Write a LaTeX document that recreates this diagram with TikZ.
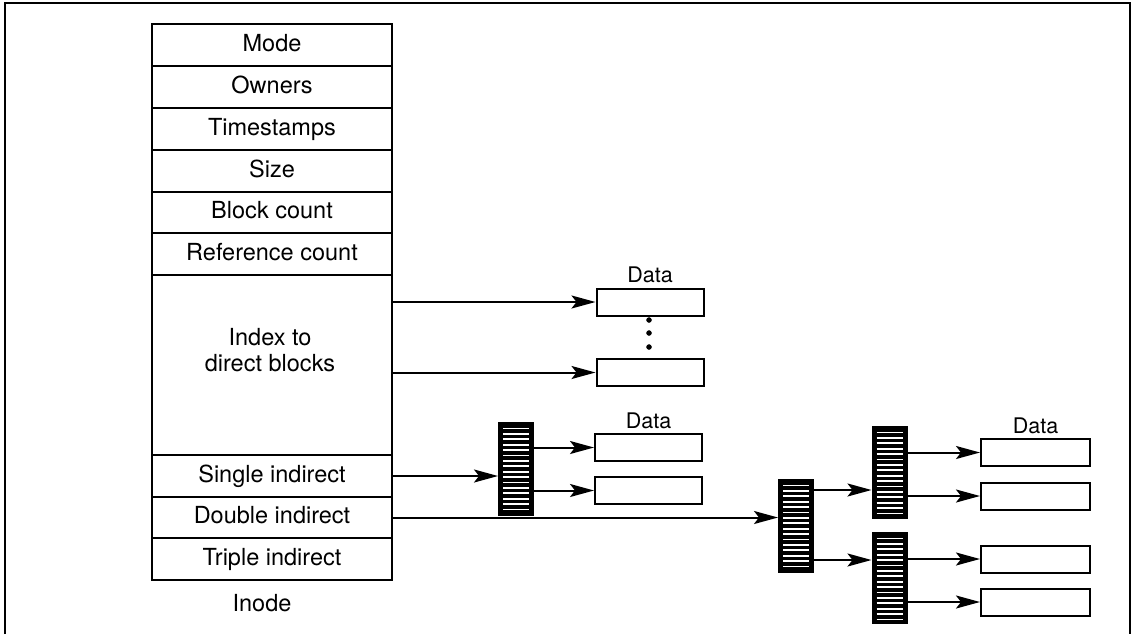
\documentclass[tikz,border=0pt]{standalone}
\usepackage{fontspec}
\setmainfont{TeX Gyre Heros}
\usetikzlibrary{arrows.meta,positioning}

\tikzset{
  field/.style={draw, line width=2pt, minimum width=240pt, inner sep=0pt, outer sep=0pt,
    text height=17pt, text depth=5pt},
  datablk/.style={draw, line width=2pt, minimum width=107pt, minimum height=27pt, inner sep=0pt},
  datalabel/.style={font=\fontsize{21.5pt}{24pt}\selectfont, inner sep=0pt},
  ptrblk/.style={draw, line width=2pt, fill=black, minimum width=34pt, minimum height=92pt, inner sep=0pt,
    path picture={\foreach \k in {1,...,16}{
      \draw[white, line width=1.8pt] ([xshift=4pt,yshift=-\k*5.4pt]path picture bounding box.north west)
        -- ([xshift=-4pt,yshift=-\k*5.4pt]path picture bounding box.north east);}}},
  ptr/.style={line width=2pt, -{Stealth[length=24pt,width=13pt,inset=5pt]}},
}

\begin{document}
\begin{tikzpicture}[x=1pt,y=-1pt,font=\fontsize{23.5pt}{25.5pt}\selectfont]
  \useasboundingbox (0,0) rectangle (1132,635);
  % frame
  \draw[line width=2.5pt] (5,634) -- (5,3) -- (1130,3) -- (1130,634);

  % the inode
  \node[field,minimum height=42pt] (mode) at (272,45) {Mode};
  \node[field,minimum height=42pt] (owners) at (272,87) {Owners};
  \node[field,minimum height=42pt] (stamps) at (272,129) {Timestamps};
  \node[field,minimum height=42pt] (size) at (272,171) {Size};
  \node[field,minimum height=41pt] (blocks) at (272,212.5) {Block count};
  \node[field,minimum height=42pt] (refs) at (272,254) {Reference count};
  \node[field,minimum height=180pt] (index) at (272,365) {};
  \node[align=center] (indextxt) at (270,350) {Index to\\direct blocks};
  \node[field,minimum height=42pt] (single) at (272,476) {Single indirect};
  \node[field,minimum height=41pt] (double) at (272,517.5) {Double indirect};
  \node[field,minimum height=42pt] (triple) at (272,559) {Triple indirect};
  \node (inode) at (262,603) {Inode};

  % direct blocks
  \node[datablk] (d1) at (650,302) {};
  \node[datablk] (d2) at (650,372.5) {};
  \node[datalabel,above=4pt of d1] (data1) {Data};
  \draw[fill] (649,320) circle [radius=2.5];
  \draw[fill] (649,333) circle [radius=2.5];
  \draw[fill] (649,347) circle [radius=2.5];
  \draw[ptr] (d1.west -| index.east) -- (d1.west);
  \draw[ptr] (d2.west -| index.east) -- (d2.west);

  % single indirect
  \node[ptrblk] (sind) at (516,469) {};
  \node[datablk] (sa) at (648.5,447.5) {};
  \node[datablk] (sb) at (648.5,490.5) {};
  \node[datalabel,above=4pt of sa] (data2) {Data};
  \draw[ptr] (single.east) -- (single.east -| sind.west);
  \draw[ptr] (sa.west -| sind.east) -- (sa.west);
  \draw[ptr] (sb.west -| sind.east) -- (sb.west);

  % double indirect
  \node[ptrblk] (dind) at (796,526) {};
  \node[ptrblk,minimum height=91pt] (eind) at (889.5,472.5) {};
  \node[ptrblk,minimum height=90pt] (find) at (889.5,578) {};
  \node[datablk,minimum width=109pt] (e1) at (1035.5,452.5) {};
  \node[datablk,minimum width=109pt] (e2) at (1035.5,496) {};
  \node[datablk,minimum width=109pt] (f1) at (1035.5,559) {};
  \node[datablk,minimum width=109pt] (f2) at (1035.5,602) {};
  \node[datalabel,above=4pt of e1] (data3) {Data};
  \path (dind.east) ++(0,-36) coordinate (dout1);
  \path (dind.east) ++(0,34) coordinate (dout2);
  \draw[ptr] (double.east) -- (double.east -| dind.west);
  \draw[ptr] (dout1) -- (dout1 -| eind.west);
  \draw[ptr] (dout2) -- (dout2 -| find.west);
  \draw[ptr] (e1.west -| eind.east) -- (e1.west);
  \draw[ptr] (e2.west -| eind.east) -- (e2.west);
  \draw[ptr] (f1.west -| find.east) -- (f1.west);
  \draw[ptr] (f2.west -| find.east) -- (f2.west);
\end{tikzpicture}
\end{document}
